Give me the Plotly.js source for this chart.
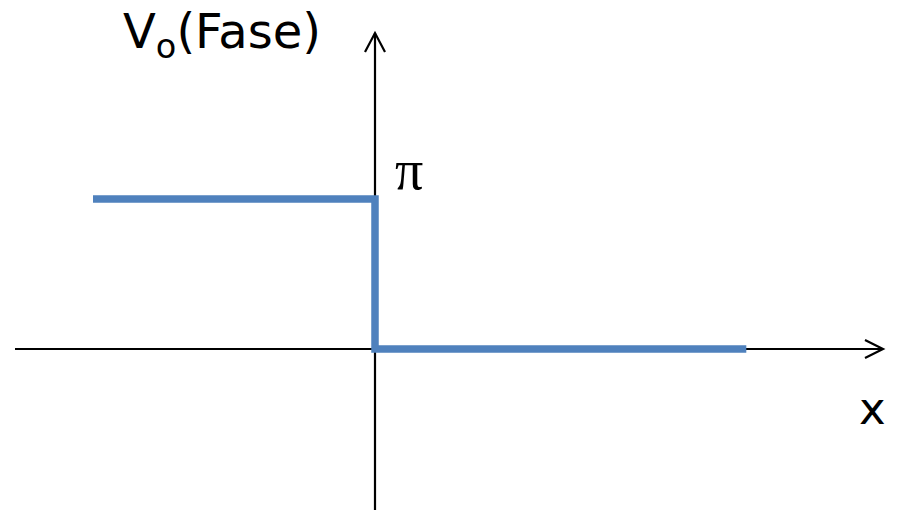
<!DOCTYPE html>
<html>
<head>
<meta charset="utf-8">
<script src="https://cdn.plot.ly/plotly-3.0.1.min.js"></script>
<style>
  html, body { margin: 0; padding: 0; background: #ffffff; }
  #chart { width: 897px; height: 510px; }
</style>
</head>
<body>
<div id="chart"></div>
<script>
// Phase of Vo versus x: a step from pi down to 0 at x = 0
const stepX = [-3, 0, 0, 3.95];
const stepY = [Math.PI, Math.PI, 0, 0];

const axisLabelY = 'V<sub>o</sub>(Fase)';
const axisLabelX = 'x';
const levelLabel = '\u03c0';

// scale: pixels per unit on each axis, origin placed at (375, 349) px
const W = 897, H = 510;
const OX = 375, OY = 349;
const UX = 94;
const UY = 150 / Math.PI;

const xRange = [-OX / UX, (W - OX) / UX];
const yRange = [-(H - OY) / UY, OY / UY];

// axis extents in data units
const xAxisStart = (15 - OX) / UX;
const xAxisEnd = (883 - OX) / UX;
const yAxisTop = (OY - 33) / UY;
const yAxisBottom = yRange[0];

const trace = {
  x: stepX,
  y: stepY,
  type: 'scatter',
  mode: 'lines',
  line: { color: '#4f81bd', width: 7.5, shape: 'linear' },
  hoverinfo: 'skip',
  showlegend: false
};

const black = '#000000';

const shapes = [
  // horizontal axis
  { type: 'line', xref: 'x', yref: 'y', x0: xAxisStart, x1: xAxisEnd, y0: 0, y1: 0,
    line: { color: black, width: 2.2 }, layer: 'below' },
  // vertical axis
  { type: 'line', xref: 'x', yref: 'y', x0: 0, x1: 0, y0: yAxisBottom, y1: yAxisTop,
    line: { color: black, width: 2.2 }, layer: 'below' },
  // open arrowhead on x axis
  { type: 'path', xref: 'x', yref: 'y', xsizemode: 'pixel', ysizemode: 'pixel',
    xanchor: xAxisEnd, yanchor: 0,
    path: 'M-18,9 L0,0 L-18,-9',
    line: { color: black, width: 2.2 } },
  // open arrowhead on y axis
  { type: 'path', xref: 'x', yref: 'y', xsizemode: 'pixel', ysizemode: 'pixel',
    xanchor: 0, yanchor: yAxisTop,
    path: 'M-10,-19 L0,0 L10,-19',
    line: { color: black, width: 2.2 } }
];

const annotations = [
  { xref: 'paper', yref: 'paper', x: 121 / W, y: 1 - 35 / H,
    xanchor: 'left', yanchor: 'middle', showarrow: false,
    text: axisLabelY,
    font: { family: 'DejaVu Sans, Verdana, sans-serif', size: 48, color: black } },
  { xref: 'paper', yref: 'paper', x: 409 / W, y: 1 - 170 / H,
    xanchor: 'center', yanchor: 'middle', showarrow: false,
    text: levelLabel,
    font: { family: 'Liberation Serif, Times New Roman, serif', size: 56, color: black } },
  { xref: 'paper', yref: 'paper', x: 872 / W, y: 1 - 408 / H,
    xanchor: 'center', yanchor: 'middle', showarrow: false,
    text: axisLabelX,
    font: { family: 'DejaVu Sans, Verdana, sans-serif', size: 45, color: black } }
];

const layout = {
  width: W,
  height: H,
  margin: { l: 0, r: 0, t: 0, b: 0, pad: 0 },
  paper_bgcolor: '#ffffff',
  plot_bgcolor: '#ffffff',
  showlegend: false,
  xaxis: { range: xRange, visible: false, fixedrange: true },
  yaxis: { range: yRange, visible: false, fixedrange: true },
  shapes: shapes,
  annotations: annotations
};

Plotly.newPlot('chart', [trace], layout, { displayModeBar: false, staticPlot: true });
</script>
</body>
</html>
